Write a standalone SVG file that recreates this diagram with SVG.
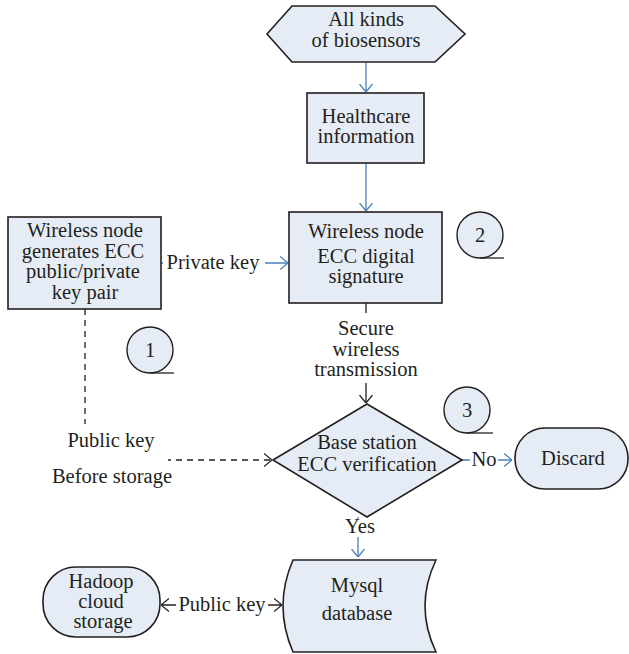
<svg xmlns="http://www.w3.org/2000/svg" width="629" height="654" viewBox="0 0 629 654">
<defs>
<style>
.n{fill:#e6ecf6;stroke:#231f20;stroke-width:1.6}
.t{font-family:'Liberation Serif','DejaVu Serif',serif;font-size:20.5px;fill:#231f20;text-anchor:middle}
.b{stroke:#4a7ebb;stroke-width:1.3;fill:none}
.k{stroke:#231f20;stroke-width:1.3;fill:none}
.d{stroke:#231f20;stroke-width:1.3;fill:none;stroke-dasharray:6 5}
.c{fill:#e6ecf6;stroke:#231f20;stroke-width:1.4}
</style>
<marker id="ab" viewBox="0 0 8 14" refX="8" refY="7" markerWidth="8" markerHeight="14" markerUnits="userSpaceOnUse" orient="auto-start-reverse"><path d="M0,0.5 L8,7 L0,13.5" fill="none" stroke="#4a7ebb" stroke-width="1.3"/></marker>
<marker id="ak" viewBox="0 0 8 14" refX="8" refY="7" markerWidth="8" markerHeight="14" markerUnits="userSpaceOnUse" orient="auto-start-reverse"><path d="M0,0.5 L8,7 L0,13.5" fill="none" stroke="#231f20" stroke-width="1.3"/></marker>
</defs>
<rect width="629" height="654" fill="#fff"/>
<g id="connectors">
<line class="b" x1="366" y1="62" x2="366" y2="92" marker-end="url(#ab)"/>
<line class="b" x1="366" y1="163" x2="366" y2="211" marker-end="url(#ab)"/>
<line class="b" x1="161" y1="263" x2="288" y2="263" marker-end="url(#ab)"/>
<rect x="163" y="248" width="102" height="26" fill="#fff"/>
<text class="t" x="213" y="269">Private key</text>
<line class="k" x1="366" y1="303" x2="366" y2="403" marker-end="url(#ak)"/>
<rect x="310" y="313" width="112" height="70" fill="#fff"/>
<text class="t" x="366" y="335">Secure</text>
<text class="t" x="366" y="356">wireless</text>
<text class="t" x="366" y="376">transmission</text>
<polyline class="d" points="85,309 85,460 272,460" marker-end="url(#ak)"/>
<rect x="48" y="424" width="120" height="68" fill="#fff"/>
<text class="t" x="111" y="447">Public key</text>
<text class="t" x="112" y="483">Before storage</text>
<line class="b" x1="462" y1="460" x2="512" y2="460" marker-end="url(#ab)"/>
<rect x="470" y="448" width="28" height="22" fill="#fff"/>
<text class="t" x="484" y="466">No</text>
<line class="b" x1="358" y1="517" x2="358" y2="557" marker-end="url(#ab)"/>
<rect x="345" y="519" width="28" height="18" fill="#fff"/>
<text class="t" x="360" y="533">Yes</text>
<line class="k" x1="161" y1="605" x2="282" y2="605" marker-start="url(#ak)" marker-end="url(#ak)"/>
<rect x="176" y="592" width="92" height="24" fill="#fff"/>
<text class="t" x="222" y="611">Public key</text>
</g>
<g id="biosensors">
<polygon class="n" points="267,34 292,6 435,6 465,34 435,62 292,62"/>
<text class="t" x="366" y="26">All kinds</text>
<text class="t" x="366" y="47">of biosensors</text>
</g>
<g id="healthcare">
<rect class="n" x="307" y="93" width="117" height="70"/>
<text class="t" x="366" y="123">Healthcare</text>
<text class="t" x="366" y="143">information</text>
</g>
<g id="keygen">
<rect class="n" x="8" y="217" width="153" height="92"/>
<text class="t" x="85" y="237">Wireless node</text>
<text class="t" x="83" y="258">generates ECC</text>
<text class="t" x="83" y="278">public/private</text>
<text class="t" x="85" y="299">key pair</text>
</g>
<g id="signature">
<rect class="n" x="289" y="212" width="153" height="91"/>
<text class="t" x="366" y="238">Wireless node</text>
<text class="t" x="366" y="263">ECC digital</text>
<text class="t" x="366" y="283">signature</text>
</g>
<g id="verification">
<polygon class="n" points="273,460 367,404 462,460 367,517"/>
<text class="t" x="367" y="449">Base station</text>
<text class="t" x="367" y="471">ECC verification</text>
</g>
<g id="discard">
<rect class="n" x="515" y="428" width="113" height="61" rx="30" ry="30"/>
<text class="t" x="573" y="465">Discard</text>
</g>
<g id="mysql">
<path class="n" d="M293,560 L436,560 Q414,606 436,652 L293,652 Q273,606 293,560 Z"/>
<text class="t" x="357" y="592">Mysql</text>
<text class="t" x="357" y="620">database</text>
</g>
<g id="hadoop">
<rect class="n" x="43" y="567" width="117" height="70" rx="33" ry="33"/>
<text class="t" x="101" y="588">Hadoop</text>
<text class="t" x="101" y="608">cloud</text>
<text class="t" x="103" y="628">storage</text>
</g>
<g id="step1">
<circle class="c" cx="150" cy="350" r="23"/>
<line class="k" x1="150" y1="373" x2="174" y2="373"/>
<text class="t" x="150" y="357">1</text>
</g>
<g id="step2">
<circle class="c" cx="480" cy="235" r="23"/>
<line class="k" x1="480" y1="258" x2="504" y2="258"/>
<text class="t" x="480" y="242">2</text>
</g>
<g id="step3">
<circle class="c" cx="467" cy="410" r="23"/>
<line class="k" x1="467" y1="433" x2="493" y2="433"/>
<text class="t" x="467" y="417">3</text>
</g>
</svg>
